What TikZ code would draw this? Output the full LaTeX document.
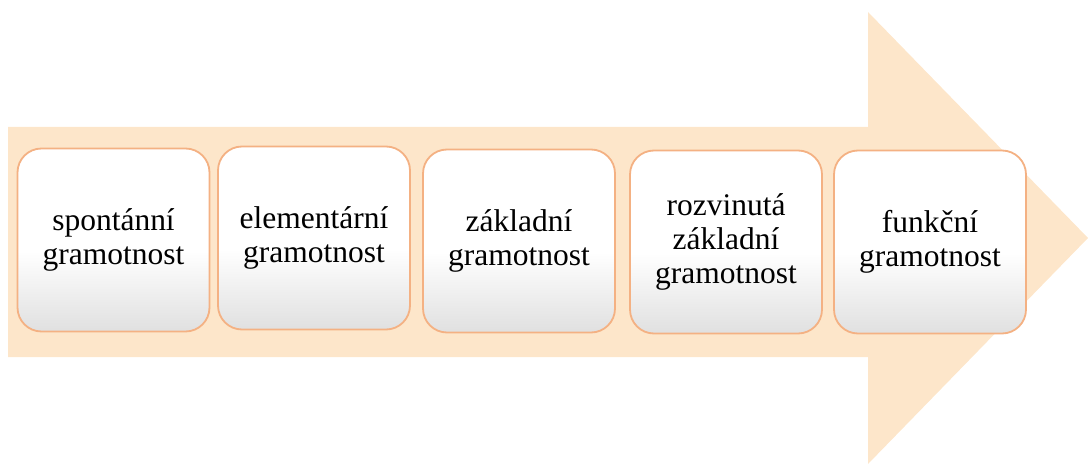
\documentclass[tikz,border=0pt]{standalone}
\usepackage{fontspec}
\setmainfont{Liberation Serif}
\definecolor{arrowfill}{RGB}{253,230,202}
\definecolor{boxborder}{RGB}{244,177,131}
\definecolor{boxbottom}{RGB}{224,224,224}
\pgfdeclareverticalshading{boxshade}{100bp}{color(0bp)=(boxbottom); color(25bp)=(boxbottom); color(47bp)=(white); color(75bp)=(white); color(100bp)=(white)}
\tikzset{
  stagebox/.style={draw=boxborder, line width=1.8pt, rounded corners=24pt,
    shading=boxshade,
    minimum width=192pt, minimum height=183pt, inner sep=0pt,
    align=center, font=\fontspec{Liberation Serif}\fontsize{31.5}{34}\selectfont, text=black},
}
\begin{document}
\begin{tikzpicture}[x=1pt,y=-1pt]
\useasboundingbox (0,0) rectangle (1088,465);
\fill[arrowfill] (8,127) -- (868,127) -- (868,12) -- (1088,238) -- (868,464) -- (868,357) -- (8,357) -- cycle;
\node[stagebox] (s1) at (113.5,240) {spontánní\\gramotnost};
\node[stagebox] (s2) at (314,238) {elementární\\gramotnost};
\node[stagebox] (s3) at (519,241) {základní\\gramotnost};
\node[stagebox] (s4) at (726,242) {rozvinutá\\základní\\gramotnost};
\node[stagebox] (s5) at (930,242) {funkční\\gramotnost};
\end{tikzpicture}
\end{document}
